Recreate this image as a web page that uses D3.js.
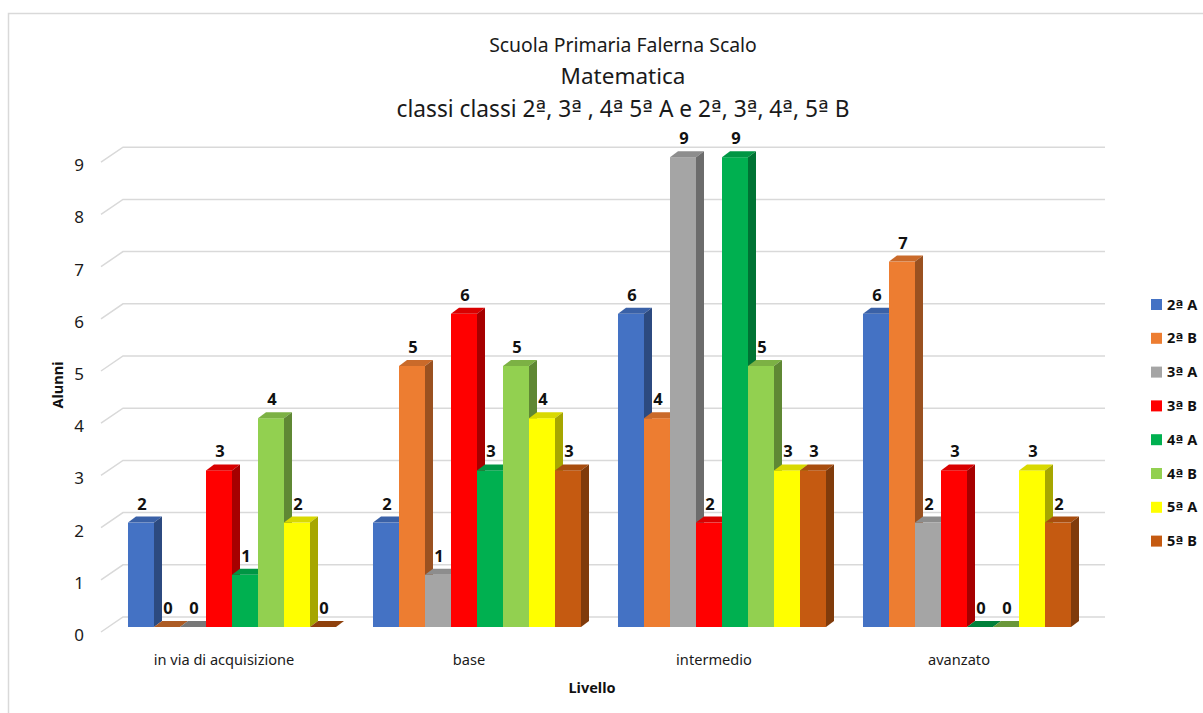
<!DOCTYPE html>
<html>
<head>
<meta charset="utf-8">
<script src="https://cdn.jsdelivr.net/npm/d3@7"></script>
<style>
  html, body { margin: 0; padding: 0; background: #ffffff; }
  svg { display: block; font-family: "Noto Sans", "Open Sans", sans-serif; }
</style>
</head>
<body>
<svg id="chart" width="1203" height="713"></svg>
<script>
// ---- data ----
const categories = ["in via di acquisizione", "base", "intermedio", "avanzato"];
const seriesNames = ["2ª A", "2ª B", "3ª A", "3ª B", "4ª A", "4ª B", "5ª A", "5ª B"];
const s2A = [2, 2, 6, 6];
const s2B = [0, 5, 4, 7];
const s3A = [0, 1, 9, 2];
const s3B = [3, 6, 2, 3];
const s4A = [1, 3, 9, 0];
const s4B = [4, 5, 5, 0];
const s5A = [2, 4, 3, 3];
const s5B = [0, 3, 3, 2];
const seriesValues = [s2A, s2B, s3A, s3B, s4A, s4B, s5A, s5B];
const seriesColors = ["#4472C4", "#ED7D31", "#A5A5A5", "#FF0000", "#00B050", "#92D050", "#FFFF00", "#C55A11"];
const yTicks = [0, 1, 2, 3, 4, 5, 6, 7, 8, 9];
const titleLines = ["Scuola Primaria Falerna Scalo", "Matematica", "classi classi 2ª, 3ª , 4ª 5ª A e 2ª, 3ª, 4ª, 5ª B"];

// ---- helpers ----
// write text, drawing the ordinal "ª" with a font whose glyph is underlined
function setRichText(sel, str) {
  str.split(/(ª)/).forEach(part => {
    if (!part) return;
    const ts = sel.append("tspan").text(part);
    if (part === "ª") ts.attr("font-family", "'DejaVu Sans', 'Liberation Sans', sans-serif");
  });
}

// ---- layout ----
const svg = d3.select("#chart");
const depthX = 8, depthY = -6;       // bar depth
const wallDX = 22, wallDY = -15;     // back-wall offset of gridlines

// chart border
svg.append("rect").attr("x", 8.5).attr("y", 13.5).attr("width", 1210).attr("height", 720)
  .attr("fill", "#fff").attr("stroke", "#d9d9d9").attr("stroke-width", 1.5);

const x0 = d3.scaleBand().domain(categories).range([109.5, 1089.5])
  .paddingInner(0.151).paddingOuter(0.0755);
const x1 = d3.scaleBand().domain(seriesNames).range([0, x0.bandwidth()]);
const y = d3.scaleLinear().domain([0, 9]).range([627, 627 - 9 * 52.2]);

// titles
const titleSizes = [19.4, 22.5, 22.7];
const titleY = [52, 84, 117];
titleLines.forEach((t, i) => {
  const tx = svg.append("text").attr("x", 623).attr("y", titleY[i])
    .attr("text-anchor", "middle").attr("font-size", titleSizes[i]).attr("fill", "#1a1a1a");
  setRichText(tx, t);
});

// gridlines (floor-side diagonal + back wall)
const grid = svg.append("g").attr("stroke", "#d9d9d9").attr("stroke-width", 1.5).attr("fill", "none");
yTicks.forEach(t => {
  const yf = y(t) + 5;
  grid.append("path").attr("d", `M101,${yf}L${101 + wallDX},${yf + wallDY}L1105,${yf + wallDY}`);
});

// y tick labels
svg.append("g").selectAll("text").data(yTicks).join("text")
  .attr("x", 79).attr("y", d => y(d) + 8).attr("dy", "0.35em")
  .attr("text-anchor", "middle").attr("font-size", 17).attr("fill", "#1a1a1a").text(d => d);

// bars
const bars = svg.append("g");
categories.forEach((cat, ci) => {
  seriesNames.forEach((sn, si) => {
    const v = seriesValues[si][ci];
    const c = d3.color(seriesColors[si]);
    const xl = x0(cat) + x1(sn), w = x1.bandwidth();
    const yt = y(v), yb = y(0);
    const g = bars.append("g");
    g.append("rect").attr("x", xl).attr("y", yt).attr("width", w).attr("height", yb - yt).attr("fill", c.formatHex());
    g.append("path")
      .attr("d", `M${xl},${yt}L${xl + depthX},${yt + depthY}L${xl + w + depthX},${yt + depthY}L${xl + w},${yt}Z`)
      .attr("fill", c.darker(v === 0 ? 0.9 : 0.45).formatHex());
    g.append("path")
      .attr("d", `M${xl + w},${yt}L${xl + w + depthX},${yt + depthY}L${xl + w + depthX},${yb + depthY}L${xl + w},${yb}Z`)
      .attr("fill", c.darker(1.2).formatHex());
  });
});

// value labels
const labels = svg.append("g");
categories.forEach((cat, ci) => {
  seriesNames.forEach((sn, si) => {
    const v = seriesValues[si][ci];
    labels.append("text")
      .attr("x", x0(cat) + x1(sn) + x1.bandwidth() / 2 + 1)
      .attr("y", y(v) - 13)
      .attr("text-anchor", "middle").attr("font-size", 16.5).attr("font-weight", "bold")
      .attr("fill", "#111").text(v);
  });
});

// category labels
svg.append("g").selectAll("text").data(categories).join("text")
  .attr("x", d => x0(d) + x0.bandwidth() / 2 - 8).attr("y", 665)
  .attr("text-anchor", "middle").attr("font-size", 14.6).attr("fill", "#1a1a1a").text(d => d);

// axis titles
svg.append("text").attr("x", 592).attr("y", 693).attr("text-anchor", "middle")
  .attr("font-size", 14.5).attr("font-weight", "bold").attr("fill", "#111").text("Livello");
svg.append("text").attr("transform", "translate(63,385) rotate(-90)").attr("text-anchor", "middle")
  .attr("font-size", 14.5).attr("font-weight", "bold").attr("fill", "#111").text("Alunni");

// legend
const legend = svg.append("g");
seriesNames.forEach((sn, i) => {
  const cy = 304.5 + i * 33.8;
  legend.append("rect").attr("x", 1151).attr("y", cy - 5.5).attr("width", 11).attr("height", 11).attr("fill", seriesColors[i]);
  const lt = legend.append("text").attr("x", 1167).attr("y", cy).attr("dy", "0.35em")
    .attr("font-size", 14.5).attr("font-weight", "bold").attr("fill", "#111");
  setRichText(lt, sn);
});
</script>
</body>
</html>
